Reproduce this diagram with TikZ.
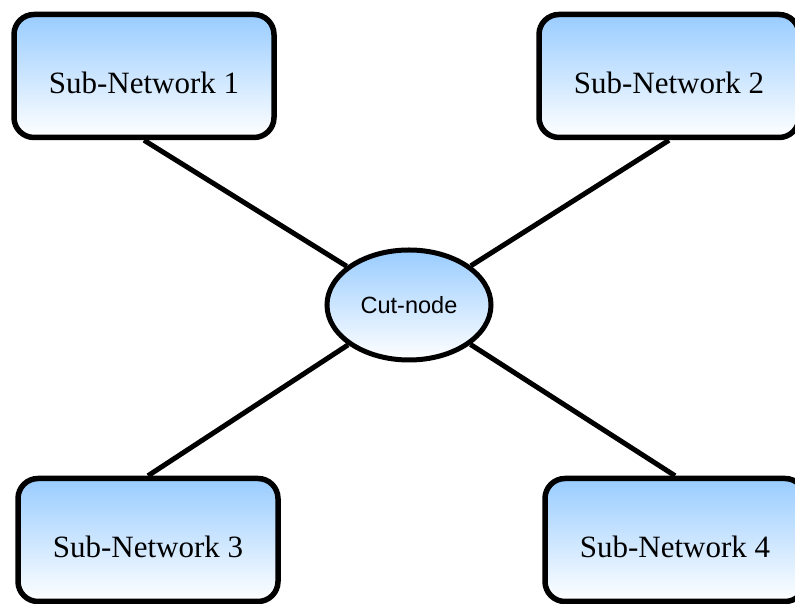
\documentclass[tikz,border=0pt]{standalone}
\usepackage{fontspec}
\setmainfont{Liberation Serif}
\newfontfamily\arialf{Liberation Sans}
\usetikzlibrary{shapes.geometric,backgrounds}
\definecolor{celeste}{RGB}{153,204,255}
\tikzset{
  subred/.style={draw=black, line width=5.5pt, rounded corners=20pt, minimum width=260pt, minimum height=123pt, inner sep=0pt, top color=celeste, bottom color=white, font=\fontsize{31}{36}\selectfont, text height=36pt, text depth=0pt},
  corte/.style={draw=black, ellipse, line width=5pt, minimum width=164pt, minimum height=110pt, inner sep=0pt, top color=celeste, bottom color=white, font=\arialf\fontsize{23.5}{28}\selectfont},
  enl/.style={line width=5pt, black},
}
\begin{document}
\begin{tikzpicture}[x=1pt, y=1pt]
  \useasboundingbox (0,0) rectangle (795,604);
  \node[subred] (s1) at (144,528) {Sub-Network 1};
  \node[subred] (s2) at (669,528) {Sub-Network 2};
  \node[subred] (s3) at (148,64) {Sub-Network 3};
  \node[subred] (s4) at (675,64) {Sub-Network 4};
  \node[corte] (cut) at (409,299) {Cut-node};
  \begin{scope}[on background layer]
    \draw[enl] (s1.south) -- (cut);
    \draw[enl] (s2.south) -- (cut);
    \draw[enl] (s3.north) -- (cut);
    \draw[enl] (s4.north) -- (cut);
  \end{scope}
\end{tikzpicture}
\end{document}
